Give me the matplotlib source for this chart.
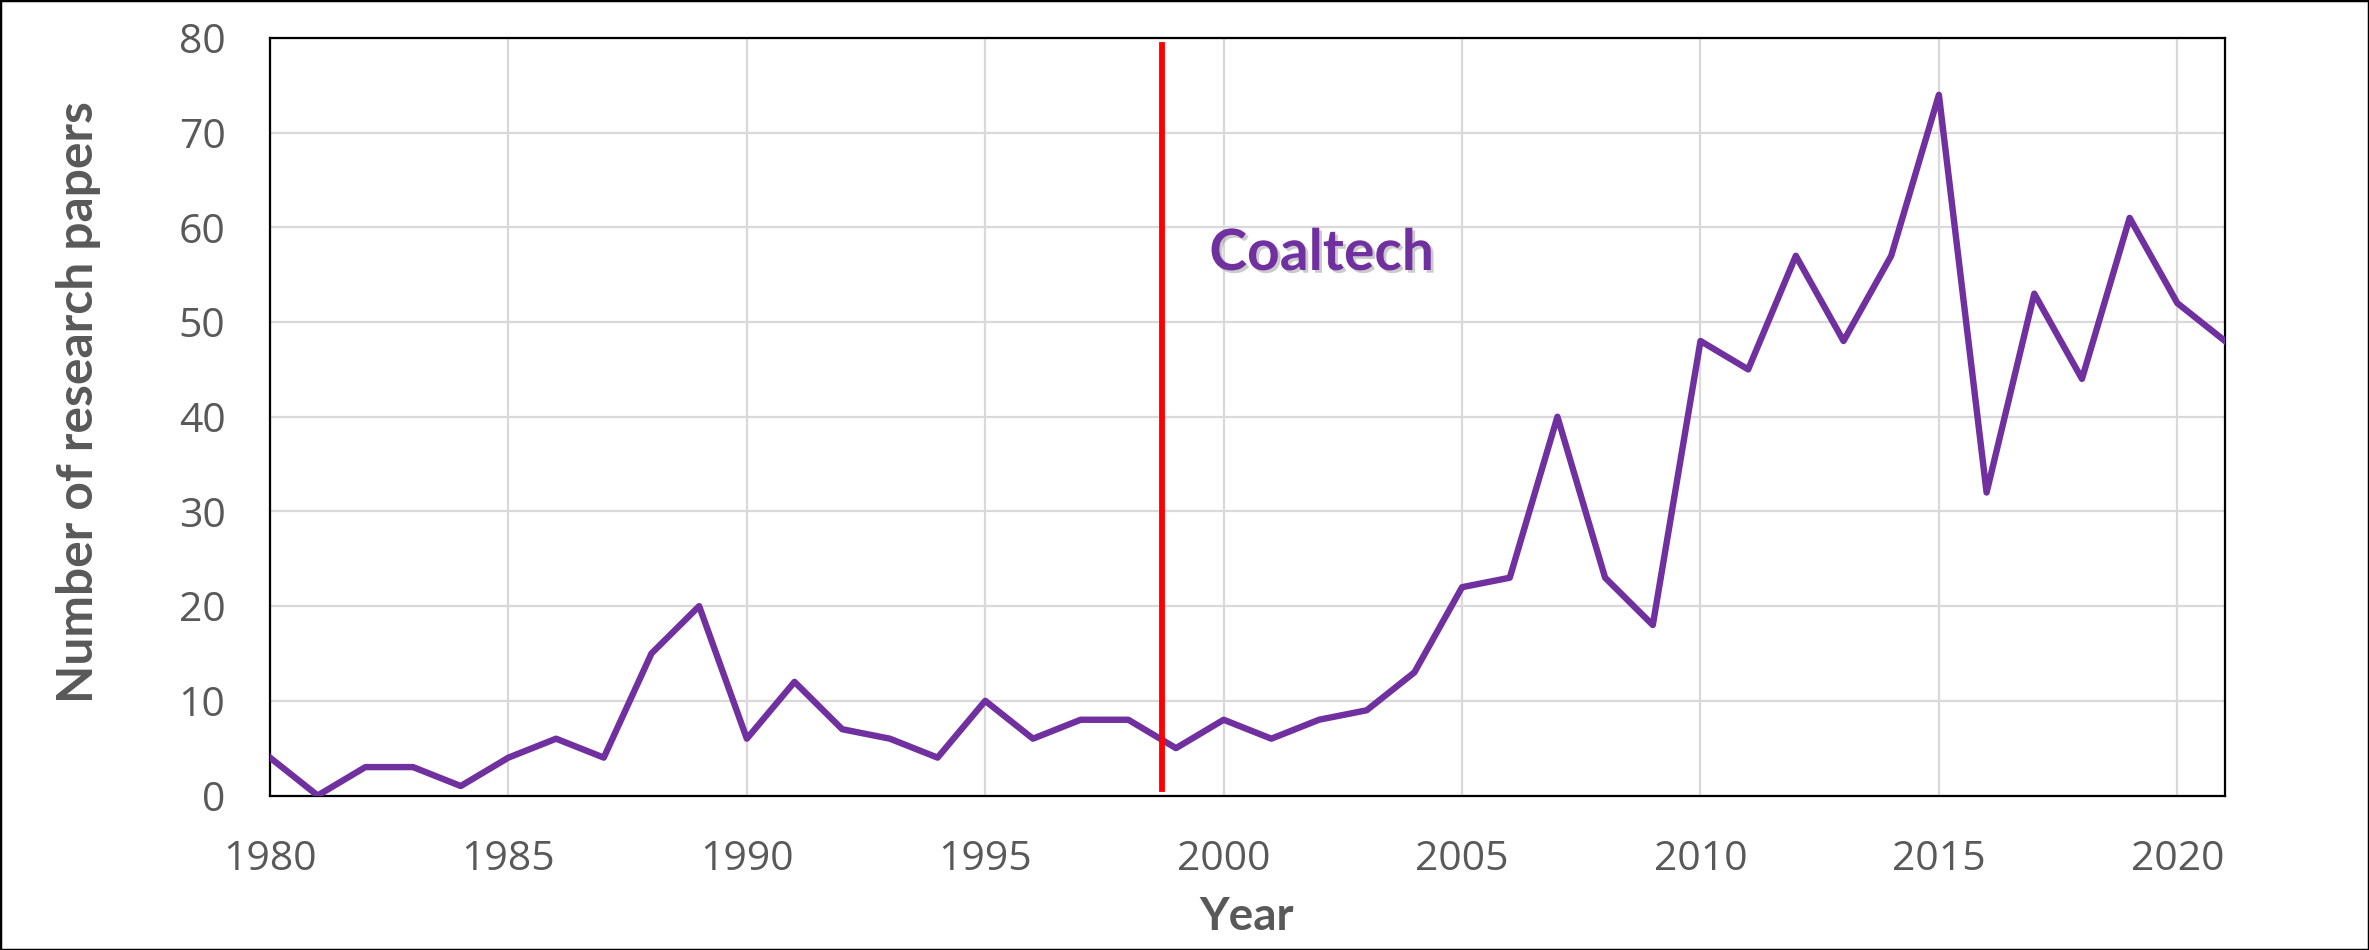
import matplotlib
matplotlib.use("Agg")
import matplotlib.pyplot as plt
import matplotlib.patheffects as pe
from matplotlib.patches import Rectangle

years = list(range(1980, 2022))
papers = [4, 0, 3, 3, 1, 4, 6, 4, 15, 20,
          6, 12, 7, 6, 4, 10, 6, 8, 8, 5,
          8, 6, 8, 9, 13, 22, 23, 40, 23, 18,
          48, 45, 57, 48, 57, 74, 32, 53, 44, 61,
          52, 48]
x_ticks = list(range(1980, 2021, 5))
y_ticks = list(range(0, 81, 10))
marker_year = 1998.7
annotation = "Coaltech"

plt.rcParams['font.family'] = ['Open Sans', 'DejaVu Sans']

GRAY = '#595959'
PURPLE = '#7030A0'
W, H = 2369, 950

fig = plt.figure(figsize=(W/100, H/100), dpi=100)
ax = fig.add_axes([270/W, 154.5/H, (2225-270)/W, (912-154.5)/H])

ax.plot(years, papers, color=PURPLE, lw=4.6, solid_joinstyle='round', zorder=3)
ax.plot([marker_year, marker_year], [0.7, 79.3], color='#FF0000', lw=4.2, zorder=4)

t = ax.text(1999.7, 55.5, annotation, color=PURPLE, fontsize=41, fontweight='bold',
            family=['Lato', 'DejaVu Sans'], ha='left', va='baseline', zorder=5)
t.set_path_effects([pe.SimplePatchShadow(offset=(2, -2), shadow_rgbFace='#999999', alpha=0.5),
                    pe.Normal()])

ax.set_xlim(1980, 2021)
ax.set_ylim(0, 80)
ax.set_xticks(x_ticks)
ax.set_yticks(y_ticks)
ax.grid(True, color='#D9D9D9', lw=1.6, zorder=0)
ax.set_axisbelow(True)
ax.tick_params(axis='both', length=0, labelsize=29.5, labelcolor=GRAY)
ax.tick_params(axis='y', pad=32)
ax.tick_params(axis='x', pad=32)
for s in ax.spines.values():
    s.set_color('black')
    s.set_linewidth(1.6)

fig.text(1247/W, 1 - 930/H, 'Year', fontsize=33, fontweight='bold', color=GRAY,
         family=['Lato', 'DejaVu Sans'], ha='center', va='baseline')
fig.text(93/W, 1 - 402/H, 'Number of research papers', fontsize=35.8, fontweight='bold',
         color=GRAY, family=['Lato', 'DejaVu Sans'], rotation=90, rotation_mode='anchor',
         ha='center', va='baseline')

fig.patches.append(Rectangle((0, 0), 1, 1, transform=fig.transFigure, fill=False,
                             edgecolor='black', lw=2.5, zorder=10))

fig.savefig('out.png', dpi=100)
